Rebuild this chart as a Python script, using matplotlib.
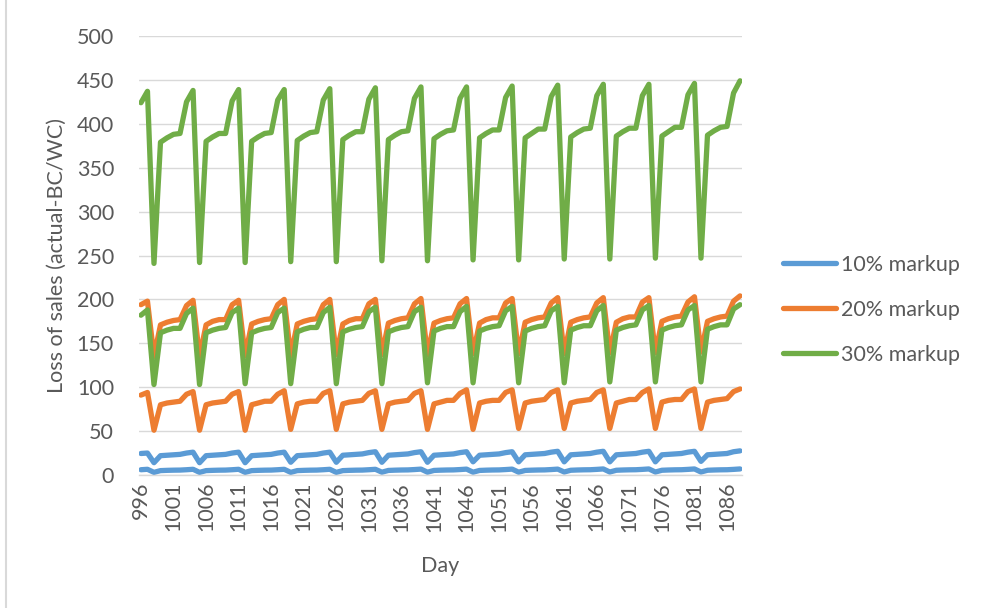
import matplotlib.pyplot as plt
from matplotlib.lines import Line2D
import numpy as np

plt.rcParams['font.family'] = ['Lato', 'DejaVu Sans']

# days 996..1088
days = np.arange(996, 1089)

# 30% markup, upper curve
g_hi = [424, 437,
        241, 379, 384, 388, 389, 425, 438,
        242, 380, 385, 389, 389, 426, 439,
        242, 380, 385, 389, 390, 427, 439,
        243, 381, 386, 390, 391, 427, 440,
        243, 382, 387, 391, 391, 428, 441,
        244, 382, 387, 391, 392, 429, 442,
        244, 383, 388, 392, 393, 429, 442,
        245, 384, 389, 393, 393, 430, 443,
        245, 384, 389, 394, 394, 431, 444,
        246, 385, 390, 394, 395, 432, 445,
        246, 386, 391, 395, 395, 432, 445,
        247, 386, 391, 396, 396, 433, 446,
        247, 387, 392, 396, 397, 435, 449]

# 30% markup, lower curve
g_lo = [182, 188,
        103, 162, 165, 167, 167, 184, 190,
        103, 162, 165, 167, 168, 185, 190,
        104, 162, 165, 167, 168, 185, 190,
        104, 163, 166, 168, 168, 185, 191,
        104, 163, 166, 168, 169, 186, 191,
        104, 163, 166, 168, 169, 186, 191,
        105, 164, 167, 169, 169, 186, 192,
        105, 164, 167, 169, 170, 187, 192,
        105, 164, 167, 169, 170, 187, 192,
        105, 165, 168, 170, 170, 187, 193,
        106, 165, 168, 170, 171, 188, 193,
        106, 165, 168, 170, 171, 188, 193,
        106, 166, 169, 171, 171, 189, 194]

# 20% markup, upper curve
o_hi = [194, 198,
        135, 171, 174, 176, 177, 193, 199,
        135, 171, 175, 177, 177, 194, 199,
        136, 172, 175, 177, 178, 194, 200,
        136, 172, 175, 177, 178, 194, 200,
        137, 172, 176, 178, 178, 195, 200,
        137, 173, 176, 178, 179, 195, 201,
        137, 173, 176, 178, 179, 195, 201,
        138, 173, 177, 179, 179, 196, 201,
        138, 174, 177, 179, 180, 196, 202,
        138, 174, 177, 179, 180, 196, 202,
        139, 174, 178, 180, 180, 197, 202,
        139, 175, 178, 180, 181, 197, 203,
        140, 175, 178, 180, 181, 198, 204]

# 20% markup, lower curve
o_lo = [91, 94,
        51, 80, 82, 83, 84, 92, 95,
        51, 80, 82, 83, 84, 92, 95,
        51, 80, 82, 84, 84, 92, 96,
        52, 81, 83, 84, 84, 93, 96,
        52, 81, 83, 84, 85, 93, 96,
        52, 81, 83, 84, 85, 93, 96,
        52, 81, 83, 85, 85, 93, 97,
        52, 82, 84, 85, 85, 94, 97,
        53, 82, 84, 85, 86, 94, 97,
        53, 82, 84, 85, 86, 94, 97,
        53, 82, 84, 86, 86, 94, 98,
        53, 83, 85, 86, 86, 95, 98,
        53, 83, 85, 86, 87, 95, 98]

# 10% markup, upper curve
b_hi = [24.5, 25,
        14, 22, 22.5, 23, 23.5, 25, 26,
        14, 22, 22.5, 23, 23.5, 25, 26,
        14, 22, 22.5, 23, 23.5, 25, 26,
        14.5, 22, 22.5, 23, 23.5, 25, 26,
        14.5, 22.5, 23, 23.5, 24, 25.5, 26.5,
        14.5, 22.5, 23, 23.5, 24, 25.5, 26.5,
        14.5, 22.5, 23, 23.5, 24, 25.5, 26.5,
        15, 22.5, 23, 23.5, 24, 25.5, 26.5,
        15, 23, 23.5, 24, 24.5, 26, 27,
        15, 23, 23.5, 24, 24.5, 26, 27,
        15, 23, 23.5, 24, 24.5, 26, 27,
        15, 23, 23.5, 24, 24.5, 26, 27,
        15.5, 23, 23.5, 24, 24.5, 26.5, 27.5]

# 10% markup, lower curve
b_lo = [6, 6.5,
        3, 5, 5.3, 5.5, 5.6, 6, 6.5,
        3, 5, 5.3, 5.5, 5.6, 6, 6.5,
        3, 5, 5.3, 5.5, 5.6, 6, 6.5,
        3, 5, 5.3, 5.5, 5.6, 6, 6.5,
        3, 5, 5.3, 5.5, 5.6, 6, 6.5,
        3.2, 5.2, 5.5, 5.7, 5.8, 6.2, 6.7,
        3.2, 5.2, 5.5, 5.7, 5.8, 6.2, 6.7,
        3.2, 5.2, 5.5, 5.7, 5.8, 6.2, 6.7,
        3.2, 5.2, 5.5, 5.7, 5.8, 6.2, 6.7,
        3.4, 5.4, 5.7, 5.9, 6, 6.4, 6.9,
        3.4, 5.4, 5.7, 5.9, 6, 6.4, 6.9,
        3.4, 5.4, 5.7, 5.9, 6, 6.4, 6.9,
        3.4, 5.4, 5.7, 5.9, 6, 6.4, 6.9]

labels = ['10% markup', '20% markup', '30% markup']
colors = ['#5B9BD5', '#ED7D31', '#70AD47']
txt = '#595959'
grid_c = '#D9D9D9'
fs = 15.5

fig = plt.figure(figsize=(9.85, 6.08), dpi=100)
ax = fig.add_axes([139/985, 1 - 475/608, 603/985, 439/608])

lw = 3.8
for lo, hi, c in [(b_lo, b_hi, colors[0]), (o_lo, o_hi, colors[1]), (g_lo, g_hi, colors[2])]:
    ax.plot(days, lo, color=c, lw=lw, solid_joinstyle='round', solid_capstyle='round')
    ax.plot(days, hi, color=c, lw=lw, solid_joinstyle='round', solid_capstyle='round')

ax.set_ylim(0, 500)
ax.set_xlim(995.7, 1088.3)
ax.set_yticks(range(0, 501, 50))
ax.set_xticks(range(996, 1087, 5))
ax.set_xticklabels([str(d) for d in range(996, 1087, 5)], rotation=90)
ax.tick_params(axis='both', length=0, labelsize=fs, labelcolor=txt)
ax.tick_params(axis='y', pad=18)
ax.tick_params(axis='x', pad=5)
ax.grid(axis='y', color=grid_c, lw=1)
ax.set_axisbelow(True)
for s in ['top', 'right', 'left']:
    ax.spines[s].set_visible(False)
ax.spines['bottom'].set_color(grid_c)
ax.spines['bottom'].set_linewidth(1)

ax.set_ylabel('Loss of sales (actual-BC/WC)', fontsize=fs, color=txt, labelpad=7)
fig.text(440/985, 1 - 566/608, 'Day', fontsize=fs, color=txt, ha='center', va='center')

handles = [Line2D([], [], color=c, lw=lw, solid_capstyle='round') for c in colors]
fig.legend(handles, labels, loc='upper left', bbox_to_anchor=(783/985, 1 - 255/608),
           frameon=False, fontsize=fs, labelcolor=txt, handlelength=2.45,
           handletextpad=0.25, labelspacing=1.16, borderpad=0, borderaxespad=0)

# chart frame edge on the left
fig.add_artist(Line2D([6/985, 6/985], [0, 1], transform=fig.transFigure, color=grid_c, lw=1.5))

plt.savefig('out.png', dpi=100)
